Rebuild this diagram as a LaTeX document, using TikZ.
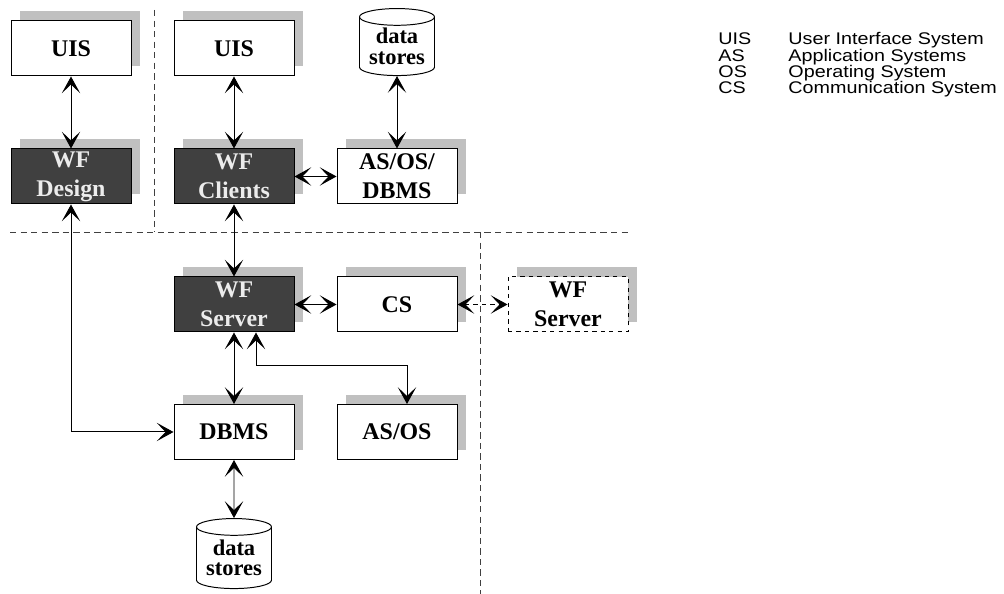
\documentclass[tikz,border=0pt]{standalone}
\usepackage{fontspec}
\setmainfont{Liberation Serif}
\newfontfamily\legendfont{Liberation Sans}[FakeStretch=1.17]
\usetikzlibrary{shapes.geometric,shadows,arrows.meta}
\definecolor{shadowgray}{RGB}{192,192,192}
\definecolor{darkfill}{RGB}{64,64,64}
\definecolor{paletext}{RGB}{236,236,236}

\begin{document}
\begin{tikzpicture}[>={Stealth[length=4.2mm,width=4.6mm,inset=2.2mm]},line width=0.7pt]
\tikzstyle{sysbox}=[rectangle,draw,fill=white,minimum width=3cm,minimum height=1.375cm,inner sep=1pt,align=center,font=\fontsize{17}{20.5}\selectfont\bfseries,drop shadow={shadow xshift=.22cm,shadow yshift=.24cm,fill=shadowgray,opacity=1}]
\tikzstyle{wfbox}=[sysbox,fill=darkfill,text=paletext]
\tikzstyle{store}=[cylinder,shape border rotate=90,aspect=.3,draw,fill=white,minimum width=1.875cm,minimum height=1.675cm,inner xsep=0pt,inner ysep=1pt,align=center,font=\fontsize{16}{14.5}\selectfont\bfseries]
\tikzstyle{sep}=[dash pattern=on 4.5pt off 3pt,line width=.6pt,black!75]
\tikzstyle{legend}=[anchor=base west,inner sep=0pt,font=\legendfont\fontsize{12}{14}\selectfont]
\useasboundingbox (0,0) rectangle (25.1,14.85);

% separators
\draw[sep] (3.85,14.6) -- (3.85,9.05);
\draw[sep] (0.25,9.05) -- (15.8,9.05);
\draw[sep] (12,9.05) -- (12,0);

% client side
\node[sysbox](uisA) at (1.775,13.6375) {UIS};
\node[wfbox](design) at (1.775,10.4375) {WF\\Design};
\node[sysbox](uisB) at (5.85,13.6375) {UIS};
\node[wfbox](clients) at (5.85,10.4375) {WF\\Clients};
\node[store](storeA) at (9.925,13.6875) {data\\stores};
\node[sysbox](asosdb) at (9.925,10.4375) {AS/OS/\\DBMS};

% server side
\node[wfbox](server) at (5.85,7.2375) {WF\\Server};
\node[sysbox](cs) at (9.925,7.2375) {CS};
\node[sysbox,dashed](remote) at (14.2,7.2375) {WF\\Server};
\node[sysbox](dbms) at (5.85,4.05) {DBMS};
\node[sysbox](asos) at (9.925,4.05) {AS/OS};
\node[store,minimum height=1.75cm](storeB) at (5.85,0.9) {data\\stores};

% legend
\node[legend](abUIS) at (17.95,13.725) {UIS};
\node[legend](abAS) at (17.95,13.32) {AS};
\node[legend](abOS) at (17.95,12.915) {OS};
\node[legend](abCS) at (17.95,12.51) {CS};
\node[legend](txUIS) at (19.7,13.725) {User Interface System};
\node[legend](txAS) at (19.7,13.32) {Application Systems};
\node[legend](txOS) at (19.7,12.915) {Operating System};
\node[legend](txCS) at (19.7,12.51) {Communication System};

\draw[<->] (uisA) -- (design);
\draw[<->] (uisB) -- (clients);
\draw[<->] (storeA) -- (asosdb);
\draw[<->] (clients) -- (asosdb);
\draw[<->] (clients) -- (server);
\draw[<->] (design.south) |- (dbms.west);
\draw[<->] (server) -- (cs);
\draw[<->,dashed] (cs) -- (remote);
\draw[<->] (server) -- (dbms);
\draw[<->] ([xshift=.55cm]server.south) -- ++(0,-.825) -| ([xshift=.25cm]asos.north);
\draw[<->] (dbms) -- (storeB);
\end{tikzpicture}
\end{document}
